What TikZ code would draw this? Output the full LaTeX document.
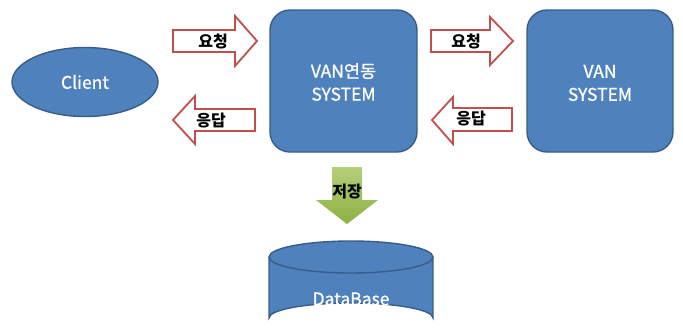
\documentclass[tikz,border=0pt]{standalone}
\usepackage{fontspec}
\setmainfont{Noto Sans CJK KR}
\newfontfamily\medfont[FakeBold=0.9]{Noto Sans CJK KR}
\usetikzlibrary{shapes.geometric}
\definecolor{boxfill}{HTML}{4F81BD}
\definecolor{boxline}{HTML}{385D8A}
\definecolor{arrline}{HTML}{C0504D}
\definecolor{grnA}{HTML}{B5CF7A}
\definecolor{grnB}{HTML}{8DB042}
\begin{document}
\begin{tikzpicture}[x=1pt,y=-1pt,
  blue/.style={fill=boxfill,draw=boxline,line width=1.4pt},
  txt/.style={text=white,font=\medfont\fontsize{17.5}{23}\selectfont,align=center},
  blockarrow/.style={fill=white,draw=arrline,line width=1.8pt,line join=miter},
  albl/.style={font=\bfseries\fontsize{16}{18}\selectfont,text=black}]
\useasboundingbox (0,0) rectangle (683,333);
% Client
\node[ellipse,blue,minimum width=146pt,minimum height=69pt] (client) at (85,82) {};
\node[txt] (clientT) at (client.center) {Client};
% VAN link system
\draw[blue,rounded corners=20pt] (270,10) rectangle (417,152);
\node[txt] (vanlink) at (343.5,82) {VAN연동\\SYSTEM};
% VAN system
\draw[blue,rounded corners=20pt] (527,10) rectangle (673,152);
\node[txt] (van) at (600,83) {VAN\\SYSTEM};
% arrows: request left
\draw[blockarrow] (173,30) -- (235,30) -- (235,16) -- (257,41) -- (235,66) -- (235,52) -- (173,52) -- cycle;
\node[albl] (req1) at (213,41) {요청};
% response left
\draw[blockarrow] (255,109) -- (195,109) -- (195,96) -- (173,120) -- (195,144) -- (195,131) -- (255,131) -- cycle;
\node[albl] (res1) at (211,121) {응답};
% request right
\draw[blockarrow] (431,30) -- (490,30) -- (490,17) -- (513,41) -- (490,65) -- (490,52) -- (431,52) -- cycle;
\node[albl] (req2) at (466,41) {요청};
% response right
\draw[blockarrow] (512,108) -- (453,108) -- (453,97) -- (432,120) -- (453,144) -- (453,131) -- (512,131) -- cycle;
\node[albl] (res2) at (471,119) {응답};
% store arrow
\shade[top color=grnA,bottom color=grnB] (332,167) -- (362,167) -- (362,200) -- (378,200) -- (347,224) -- (316,200) -- (332,200) -- cycle;
\node[albl] (store) at (347,192) {저장};
% database cylinder
\draw[blue] (269,257) -- (269,318) arc[start angle=180,end angle=360,x radius=82,y radius=15] -- (433,257);
\draw[blue] (351,257) ellipse[x radius=82,y radius=16];
\node[txt] (db) at (351,299) {DataBase};
\end{tikzpicture}
\end{document}
